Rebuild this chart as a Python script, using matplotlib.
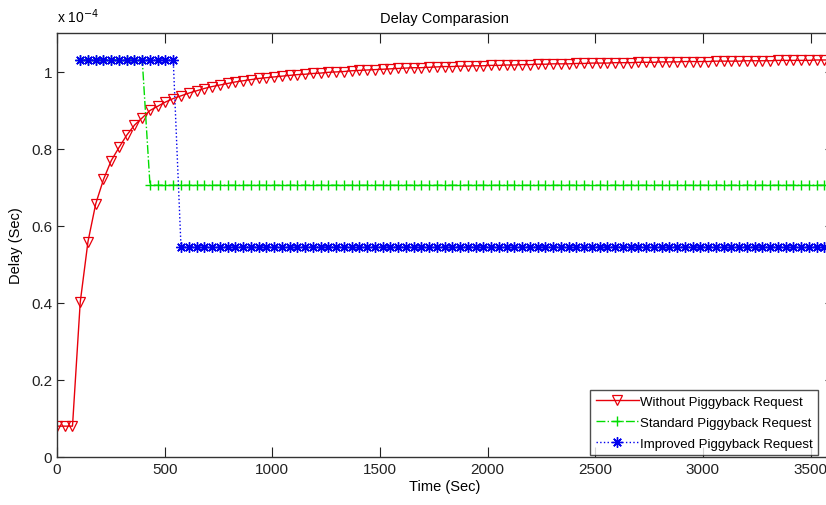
import matplotlib
matplotlib.use("Agg")
import matplotlib.pyplot as plt
import numpy as np

# time grid (sec), one sample every 36 s
time = np.arange(0, 3601, 36)

# delay values in units of 1e-4 sec
without_pb = [0.080, 0.080, 0.080, 0.402, 0.559, 0.657, 0.720, 0.769, 0.803, 0.835,
              0.861, 0.880, 0.899, 0.910, 0.921, 0.930, 0.937, 0.944, 0.950, 0.956,
              0.961, 0.965, 0.969, 0.973, 0.976, 0.979, 0.982, 0.984, 0.986, 0.988,
              0.990, 0.992, 0.993, 0.995, 0.996, 0.998, 0.999, 1.000, 1.002, 1.003,
              1.004, 1.005, 1.006, 1.007, 1.008, 1.009, 1.010, 1.010, 1.011, 1.012,
              1.013, 1.013, 1.014, 1.014, 1.015, 1.015, 1.016, 1.016, 1.017, 1.017,
              1.018, 1.018, 1.019, 1.019, 1.020, 1.020, 1.020, 1.021, 1.021, 1.022,
              1.022, 1.022, 1.023, 1.023, 1.023, 1.024, 1.024, 1.024, 1.025, 1.025,
              1.025, 1.026, 1.026, 1.026, 1.026, 1.027, 1.027, 1.027, 1.027, 1.028,
              1.028, 1.028, 1.028, 1.029, 1.029, 1.029, 1.029, 1.029, 1.030, 1.030,
              1.030]
standard_pb = [np.nan] * 3 + [1.03] * 9 + [0.705] * 89
improved_pb = [np.nan] * 3 + [1.03] * 13 + [0.545] * 85

x_ticks = [0, 500, 1000, 1500, 2000, 2500, 3000, 3500]
y_ticks = [0, 0.2, 0.4, 0.6, 0.8, 1.0]
y_tick_labels = ['0', '0.2', '0.4', '0.6', '0.8', '1']

plt.rcParams['font.family'] = ['Liberation Sans Narrow', 'Liberation Sans', 'DejaVu Sans']

fig = plt.figure(figsize=(8.26, 5.06), dpi=100)
ax = fig.add_axes([0.069, 0.0949, 0.9383, 0.8379])

ax.plot(time, without_pb, color='#e8000b', linestyle='-', linewidth=1,
        marker='v', markersize=6.5, markerfacecolor='none', markeredgecolor='#e8000b',
        markeredgewidth=0.9, label='Without Piggyback Request')
ax.plot(time, standard_pb, color='#00dd00', linestyle='-.', linewidth=1,
        marker='+', markersize=7, markeredgewidth=1, label='Standard Piggyback Request')
ax.plot(time, improved_pb, color='#0000ee', linestyle=':', linewidth=1,
        marker=(8, 2, 0), markersize=7.5, markeredgewidth=1, label='Improved Piggyback Request')

ax.set_xlim(0, 3600)
ax.set_ylim(0, 1.1)
ax.set_xticks(x_ticks)
ax.set_yticks(y_ticks)
ax.set_yticklabels(y_tick_labels)
ax.tick_params(direction='in', top=True, right=True, labelsize=11, colors='#222222')
ax.tick_params(axis='x', length=7)
ax.tick_params(axis='y', length=5)
for s in ax.spines.values():
    s.set_color('#333333')
    s.set_linewidth(1)

ax.set_title('Delay Comparasion', fontsize=10.5, pad=8)
ax.set_xlabel('Time (Sec)', fontsize=10.5, labelpad=2)
ax.set_ylabel('Delay (Sec)', fontsize=10.5, labelpad=6)
ax.text(0.0, 1.02, r'x 10$^{-4}$', transform=ax.transAxes, fontsize=10,
        ha='left', va='bottom')

leg = ax.legend(loc='lower right', bbox_to_anchor=(0.9842, 0.002), fontsize=9.5,
                frameon=True, fancybox=False, borderpad=0.4, labelspacing=0.65,
                handlelength=3.3, handletextpad=0.1, borderaxespad=0.1)
leg.get_frame().set_edgecolor('#222222')
leg.get_frame().set_linewidth(1)

fig.savefig('out.png', dpi=100)
